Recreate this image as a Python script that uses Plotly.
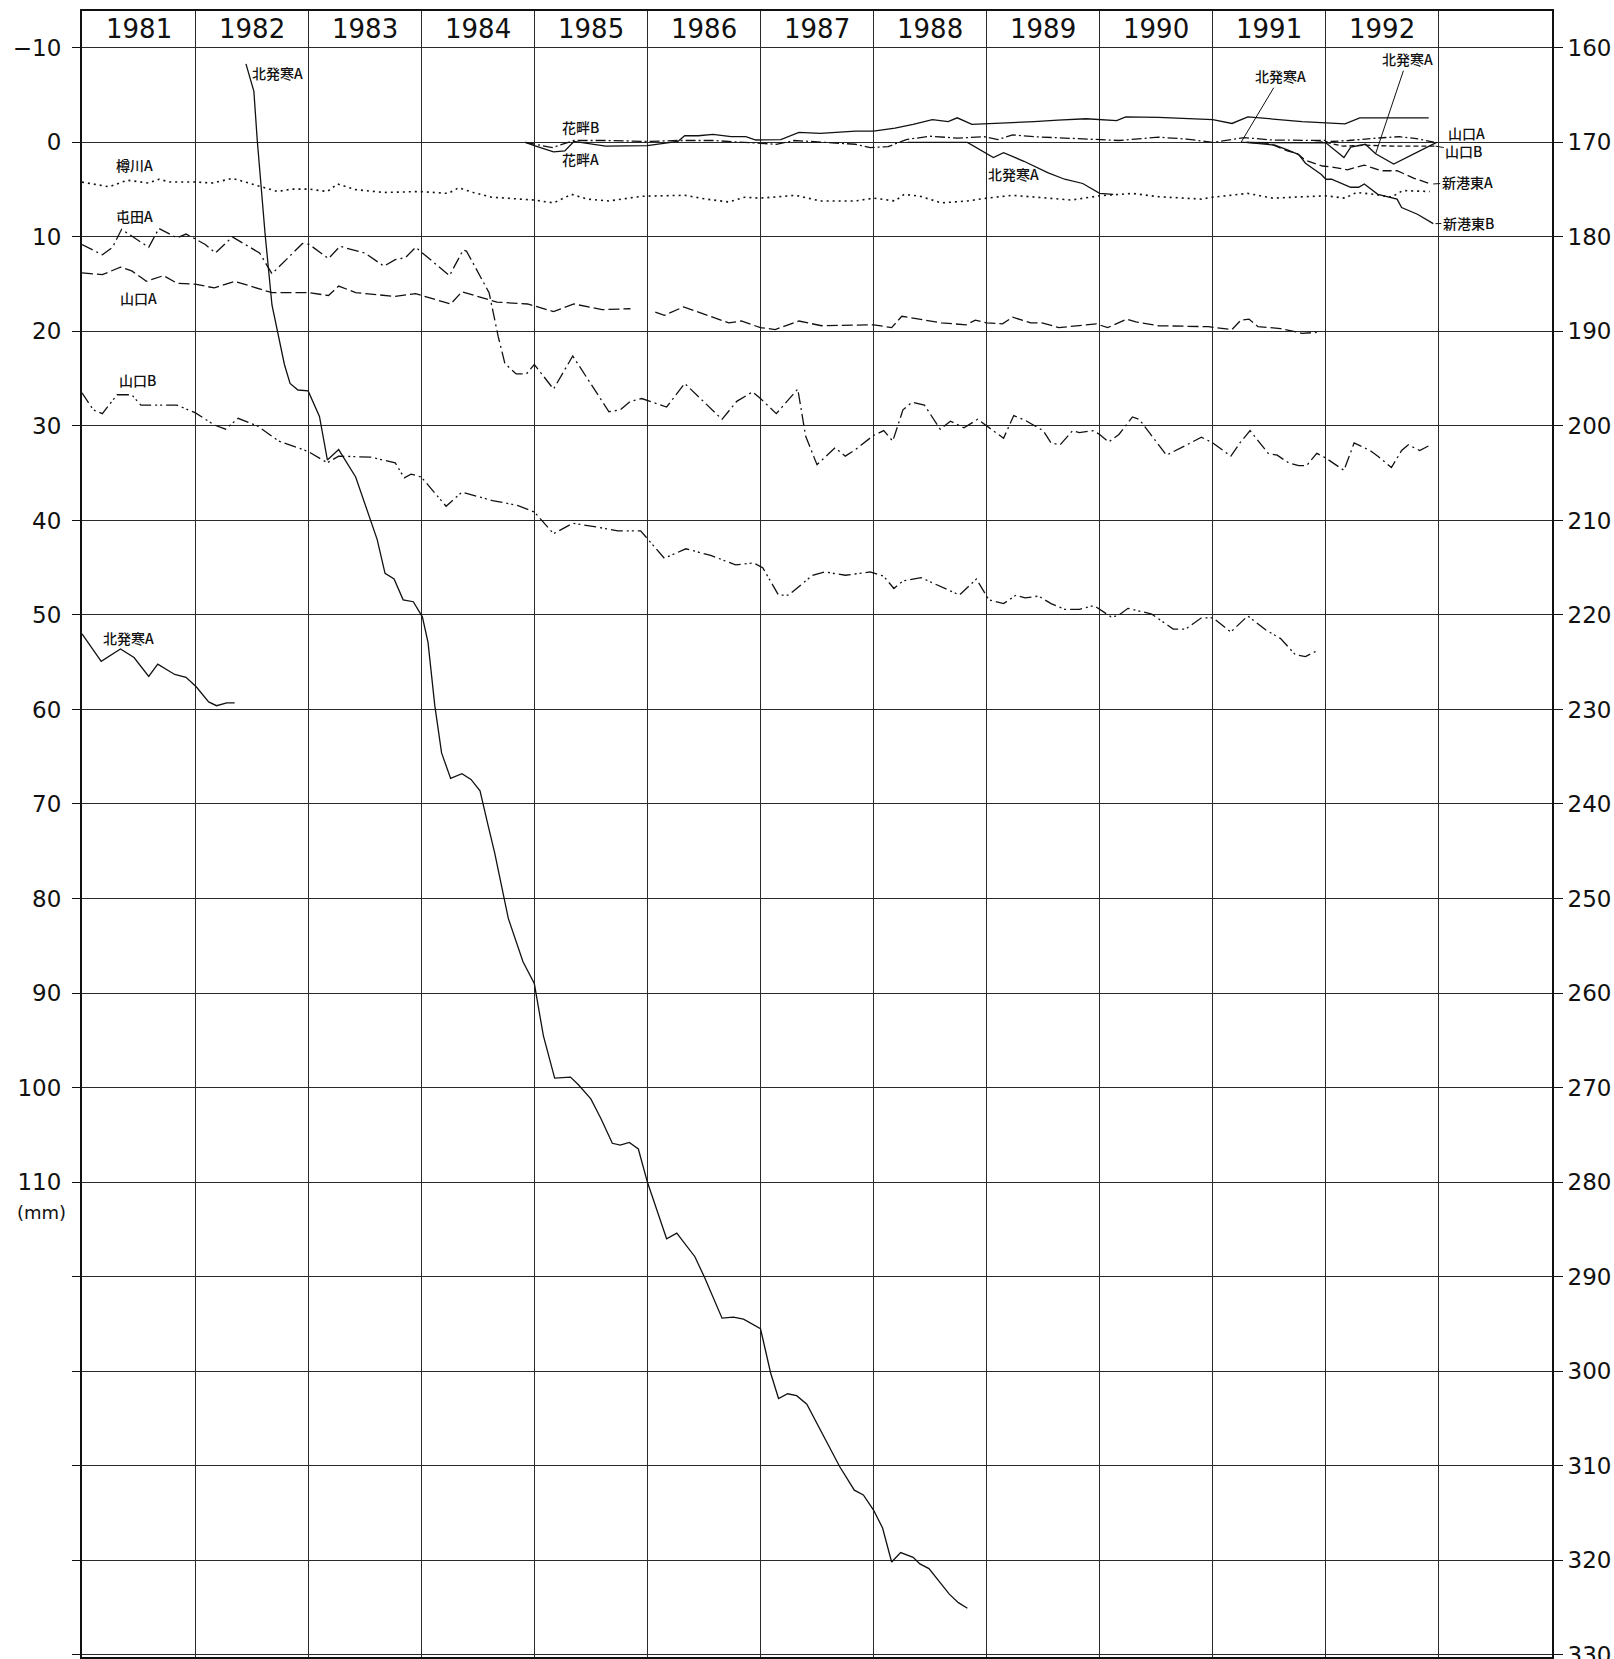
import plotly.graph_objects as go

# ---------------- data (decimal years, settlement in mm) ----------------
years = list(range(1981, 1993))
left_ticks = list(range(-10, 161, 10))
left_labels = [("−" + str(-v)) if v < 0 else (str(v) if v <= 110 else "") for v in left_ticks]
right_ticks = list(range(160, 331, 10))

taru_t = [1981.0, 1981.24, 1981.40, 1981.59, 1981.68, 1981.78, 1982.0, 1982.16, 1982.33, 1982.47, 1982.73,
          1982.85, 1983.01, 1983.17, 1983.26, 1983.42, 1983.67, 1983.99, 1984.24, 1984.33, 1984.46, 1984.62,
          1985.0, 1985.17, 1985.33, 1985.47, 1985.66, 1985.95, 1986.33, 1986.52, 1986.72, 1986.86, 1987.0,
          1987.31, 1987.53, 1987.84, 1988.0, 1988.19, 1988.27, 1988.41, 1988.6, 1988.83, 1989.0, 1989.23,
          1989.41, 1989.6, 1989.75, 1990.0, 1990.29, 1990.52, 1990.9, 1991.0, 1991.31, 1991.53, 1991.78,
          1992.0, 1992.17, 1992.27, 1992.43, 1992.58, 1992.68, 1992.92]
taru_v = [4.2, 4.7, 4.0, 4.3, 3.9, 4.2, 4.2, 4.3, 3.8, 4.3, 5.2, 4.95, 4.95, 5.2, 4.4, 5.0, 5.3, 5.2, 5.4, 4.8,
          5.3, 5.8, 6.1, 6.4, 5.5, 6.0, 6.2, 5.7, 5.6, 6.0, 6.3, 5.8, 5.9, 5.6, 6.2, 6.2, 5.9, 6.2, 5.5, 5.7,
          6.4, 6.2, 5.9, 5.6, 5.8, 6.0, 6.1, 5.65, 5.4, 5.75, 6.0, 5.8, 5.4, 5.9, 5.8, 5.65, 5.9, 5.3, 5.5,
          5.8, 5.1, 5.2]

tonden_t = [1981.0, 1981.18, 1981.27, 1981.35, 1981.59, 1981.68, 1981.84, 1981.92, 1982.0, 1982.09, 1982.18,
            1982.33, 1982.57, 1982.68, 1982.95, 1983.01, 1983.18, 1983.28, 1983.5, 1983.67, 1983.77, 1983.86,
            1983.95, 1984.25, 1984.37, 1984.40, 1984.6, 1984.68, 1984.74, 1984.84, 1984.93, 1985.0, 1985.17,
            1985.34, 1985.66, 1985.76, 1985.85, 1985.95, 1986.17, 1986.33, 1986.66, 1986.79, 1986.93, 1987.0,
            1987.14, 1987.33, 1987.4, 1987.5, 1987.66, 1987.75, 1987.84, 1988.0, 1988.09, 1988.17, 1988.26,
            1988.34, 1988.45, 1988.59, 1988.68, 1988.8, 1988.92, 1989.0, 1989.15, 1989.24, 1989.34, 1989.5,
            1989.57, 1989.65, 1989.76, 1989.82, 1989.94, 1990.0, 1990.08, 1990.17, 1990.29, 1990.35, 1990.59,
            1990.9, 1991.0, 1991.16, 1991.24, 1991.33, 1991.49, 1991.57, 1991.67, 1991.76, 1991.83, 1991.92,
            1992.0, 1992.16, 1992.25, 1992.39, 1992.46, 1992.58, 1992.67, 1992.73, 1992.83, 1992.91]
tonden_v = [10.8, 11.9, 11.1, 9.2, 11.1, 9.1, 10.1, 9.7, 10.2, 10.8, 11.7, 10.0, 11.7, 13.9, 10.7, 10.8, 12.3,
            11.0, 11.7, 13.1, 12.4, 12.2, 11.1, 14.1, 11.4, 11.5, 15.9, 20.5, 23.4, 24.5, 24.5, 23.5, 26.1,
            22.6, 28.5, 28.3, 27.4, 27.1, 28.0, 25.5, 29.3, 27.4, 26.4, 27.1, 28.7, 26.1, 31.1, 34.1, 32.3,
            33.2, 32.5, 31.0, 30.5, 31.6, 28.3, 27.5, 27.8, 30.35, 29.5, 30.2, 29.3, 30.0, 31.3, 28.9, 29.4,
            30.5, 31.8, 32.0, 30.5, 30.7, 30.5, 30.9, 31.7, 30.9, 29.05, 29.3, 33.1, 31.2, 31.8, 33.2, 31.8,
            30.5, 32.9, 33.1, 33.9, 34.2, 34.2, 32.9, 33.4, 34.7, 31.8, 32.6, 33.2, 34.4, 32.6, 32.0, 32.6, 32.1]

yamaA_t = [1981.0, 1981.18, 1981.34, 1981.44, 1981.57, 1981.72, 1981.84, 1982.0, 1982.17, 1982.35, 1982.68,
           1983.0, 1983.18, 1983.27, 1983.42, 1983.77, 1983.95, 1984.26, 1984.36, 1984.67, 1984.94, 1985.17,
           1985.35, 1985.6, 1985.85, 1985.96, 1986.07, 1986.15, 1986.32, 1986.72, 1986.83, 1987.0, 1987.13,
           1987.34, 1987.54, 1988.0, 1988.16, 1988.25, 1988.6, 1988.82, 1988.9, 1989.0, 1989.14, 1989.23,
           1989.39, 1989.49, 1989.64, 1989.97, 1990.07, 1990.24, 1990.32, 1990.52, 1990.96, 1991.17, 1991.25,
           1991.32, 1991.4, 1991.6, 1991.79, 1991.92]
yamaA_v = [13.8, 14.0, 13.2, 13.6, 14.7, 14.1, 14.9, 15.0, 15.4, 14.7, 15.9, 15.9, 16.2, 15.2, 15.9, 16.3, 16.0,
           17.1, 15.8, 16.9, 17.1, 17.9, 17.1, 17.7, 17.6, None, 17.95, 18.3, 17.4, 19.1, 18.9, 19.6, 19.8,
           18.9, 19.4, 19.3, 19.6, 18.4, 19.1, 19.3, 18.8, 19.1, 19.2, 18.5, 19.1, 19.1, 19.6, 19.2, 19.6,
           18.7, 19.0, 19.4, 19.5, 19.8, 18.8, 18.7, 19.5, 19.7, 20.2, 20.1]

yamaB_t = [1981.0, 1981.1, 1981.18, 1981.31, 1981.44, 1981.52, 1981.84, 1982.0, 1982.17, 1982.27, 1982.38,
           1982.55, 1982.74, 1983.0, 1983.17, 1983.27, 1983.55, 1983.77, 1983.85, 1983.91, 1984.0, 1984.22,
           1984.36, 1984.63, 1984.85, 1985.0, 1985.17, 1985.34, 1985.53, 1985.74, 1985.94, 1986.15, 1986.34,
           1986.56, 1986.78, 1986.94, 1987.02, 1987.16, 1987.25, 1987.46, 1987.57, 1987.75, 1987.97, 1988.09,
           1988.18, 1988.26, 1988.42, 1988.61, 1988.76, 1988.91, 1989.02, 1989.15, 1989.26, 1989.34, 1989.46,
           1989.57, 1989.69, 1989.82, 1989.95, 1990.1, 1990.16, 1990.25, 1990.46, 1990.65, 1990.76, 1990.9,
           1991.0, 1991.16, 1991.31, 1991.47, 1991.6, 1991.73, 1991.82, 1991.92]
yamaB_v = [26.5, 28.3, 28.7, 26.7, 26.7, 27.8, 27.8, 28.6, 29.9, 30.35, 29.2, 30.0, 31.6, 32.7, 33.9, 33.2, 33.3,
           33.9, 35.5, 35.1, 35.4, 38.5, 37.0, 37.9, 38.4, 39.1, 41.4, 40.3, 40.65, 41.1, 41.1, 44.0, 43.0,
           43.7, 44.7, 44.5, 45.0, 47.9, 47.9, 45.8, 45.45, 45.8, 45.45, 45.9, 47.2, 46.4, 46.05, 47.1, 47.9,
           46.2, 48.4, 48.8, 47.9, 48.2, 48.0, 48.8, 49.4, 49.4, 49.0, 50.2, 50.1, 49.3, 49.9, 51.5, 51.5,
           50.3, 50.3, 51.8, 50.1, 51.6, 52.5, 54.2, 54.4, 53.8]

kita1_t = [1981.0, 1981.17, 1981.34, 1981.46, 1981.59, 1981.67, 1981.82, 1981.92, 1982.01, 1982.12, 1982.19,
           1982.28, 1982.35]
kita1_v = [52.0, 54.9, 53.6, 54.5, 56.5, 55.2, 56.3, 56.6, 57.6, 59.2, 59.6, 59.3, 59.3]

# 北発寒A main record, read on the right-hand scale
kita2_t = [1982.45, 1982.52, 1982.55, 1982.62, 1982.68, 1982.73, 1982.79, 1982.84, 1982.91, 1983.0, 1983.1,
           1983.17, 1983.27, 1983.42, 1983.54, 1983.61, 1983.68, 1983.76, 1983.84, 1983.93, 1984.01, 1984.06,
           1984.12, 1984.18, 1984.26, 1984.36, 1984.44, 1984.52, 1984.59, 1984.65, 1984.77, 1984.9, 1985.0,
           1985.08, 1985.18, 1985.32, 1985.39, 1985.5, 1985.59, 1985.69, 1985.76, 1985.84, 1985.92, 1986.0,
           1986.17, 1986.26, 1986.42, 1986.51, 1986.66, 1986.76, 1986.85, 1986.92, 1987.0, 1987.09, 1987.16,
           1987.24, 1987.32, 1987.41, 1987.53, 1987.7, 1987.83, 1987.91, 1988.0, 1988.08, 1988.16, 1988.24,
           1988.35, 1988.41, 1988.49, 1988.58, 1988.67, 1988.75, 1988.83]
kita2_v = [161.7, 164.6, 169.8, 179.8, 187.2, 190.1, 193.5, 195.5, 196.2, 196.3, 199.0, 203.6, 202.5, 205.4,
           209.7, 212.0, 215.6, 216.2, 218.4, 218.6, 220.2, 222.9, 229.6, 234.6, 237.3, 236.8, 237.4, 238.6,
           242.2, 245.2, 252.1, 256.7, 259.0, 264.5, 269.0, 268.9, 269.7, 271.2, 273.3, 275.9, 276.1, 275.8,
           276.5, 280.0, 286.0, 285.4, 287.9, 290.2, 294.4, 294.3, 294.5, 295.0, 295.5, 300.2, 302.9, 302.4,
           302.6, 303.5, 306.2, 310.1, 312.6, 313.1, 314.7, 316.6, 320.2, 319.2, 319.7, 320.4, 320.9, 322.2,
           323.6, 324.5, 325.1]

kita3_t = [1988.3, 1988.83, 1989.06, 1989.15, 1989.33, 1989.54, 1989.69, 1989.85, 1990.0, 1990.12]
kita3_v = [0.0, 0.0, 1.6, 1.1, 2.0, 3.2, 3.9, 4.35, 5.4, 5.5]

kita4_t = [1991.25, 1991.6, 1992.0, 1992.16, 1992.22, 1992.35, 1992.44, 1992.6, 1992.98]
kita4_v = [0.0, 0.05, 0.05, 1.6, 0.5, 0.2, 1.2, 2.3, 0.0]

hanaA_t = [1984.92, 1985.0, 1985.17, 1985.27, 1985.35, 1985.47, 1985.63, 1986.0, 1986.17, 1986.27, 1986.33,
           1986.45, 1986.58, 1986.74, 1986.87, 1986.96, 1987.18, 1987.34, 1987.53, 1987.84, 1988.0, 1988.19,
           1988.35, 1988.52, 1988.66, 1988.74, 1988.87, 1989.1, 1989.42, 1989.63, 1989.88, 1990.15, 1990.23,
           1990.52, 1991.0, 1991.17, 1991.31, 1991.79, 1992.0, 1992.17, 1992.3, 1992.91]
hanaA_v = [0.0, 0.35, 1.0, 0.9, -0.1, 0.1, 0.4, 0.35, 0.1, -0.1, -0.7, -0.7, -0.85, -0.6, -0.6, -0.25, -0.3,
           -1.05, -0.95, -1.2, -1.2, -1.5, -1.9, -2.4, -2.2, -2.6, -1.9, -2.0, -2.2, -2.35, -2.5, -2.3, -2.7,
           -2.65, -2.4, -2.0, -2.7, -2.2, -2.1, -1.95, -2.6, -2.6]

hanaB_t = [1984.92, 1985.16, 1985.35, 1985.63, 1986.0, 1986.27, 1986.58, 1987.0, 1987.14, 1987.3, 1987.53,
           1987.84, 1987.97, 1988.13, 1988.29, 1988.5, 1988.74, 1988.98, 1989.1, 1989.23, 1989.42, 1989.63,
           1990.0, 1990.17, 1990.52, 1990.77, 1991.0, 1991.28, 1991.53, 1991.78, 1992.0]
hanaB_v = [0.0, 0.55, -0.2, -0.2, -0.1, -0.2, -0.2, 0.05, 0.2, -0.2, 0.0, 0.2, 0.55, 0.45, -0.3, -0.65, -0.45,
           -0.6, -0.3, -0.8, -0.6, -0.5, -0.25, -0.2, -0.55, -0.35, 0.0, -0.5, -0.25, -0.25, -0.2]

shinA_t = [1991.3, 1991.5, 1991.66, 1991.75, 1991.82, 1991.97, 1992.05, 1992.19, 1992.34, 1992.49, 1992.63,
           1992.78, 1992.93]
shinA_v = [0.0, 0.1, 0.9, 1.2, 1.9, 2.5, 2.6, 2.9, 2.4, 3.0, 3.0, 3.8, 4.4]

shinB_t = [1991.3, 1991.55, 1991.66, 1991.76, 1991.82, 1991.9, 1991.96, 1992.0, 1992.05, 1992.22, 1992.29,
           1992.34, 1992.46, 1992.63, 1992.67, 1992.81, 1992.95]
shinB_v = [0.0, 0.3, 0.8, 1.3, 2.2, 2.9, 3.4, 3.9, 3.9, 4.75, 4.75, 4.4, 5.5, 6.0, 6.9, 7.6, 8.6]

yamaA2_t = [1991.9, 1992.2, 1992.45, 1992.65, 1992.8, 1992.97]
yamaA2_v = [0.0, -0.2, -0.45, -0.6, -0.4, 0.0]

yamaB2_t = [1992.0, 1992.15, 1992.35, 1992.6, 1992.97]
yamaB2_v = [0.0, 0.4, 0.3, 0.4, 0.4]

# ---------------- figure ----------------
INK = "#111111"
fig = go.Figure()


def add_line(t, v, dash="solid", yaxis="y", width=1.3):
    fig.add_trace(go.Scatter(x=t, y=v, mode="lines", yaxis=yaxis,
                             line=dict(color=INK, width=width, dash=dash),
                             connectgaps=False, hoverinfo="skip", showlegend=False))


add_line(taru_t, taru_v, dash="2px,4px", width=1.6)
add_line(tonden_t, tonden_v, dash="12px,4px,2px,4px")
add_line(yamaA_t, yamaA_v, dash="11px,4px")
add_line(yamaB_t, yamaB_v, dash="12px,4px,2px,3px,2px,4px")
add_line(kita1_t, kita1_v)
add_line(kita2_t, kita2_v, yaxis="y2")
add_line(kita3_t, kita3_v)
add_line(kita4_t, kita4_v)
add_line(hanaA_t, hanaA_v)
add_line(hanaB_t, hanaB_v, dash="10px,3px,2px,3px")
add_line(shinA_t, shinA_v, dash="9px,4px")
add_line(shinB_t, shinB_v)
add_line(yamaA2_t, yamaA2_v, dash="8px,3px,2px,3px")
add_line(yamaB2_t, yamaB2_v, dash="5px,3px")

NUM_FONT = dict(family="DejaVu Sans", size=23, color=INK)
LBL_FONT = dict(family="Noto Sans CJK JP", size=14, color=INK, weight=500)

annotations = []
for y in years:
    annotations.append(dict(x=y + 0.5, y=-11.95, xref="x", yref="y", text=str(y), showarrow=False,
                            xanchor="center", yanchor="middle",
                            font=dict(family="DejaVu Sans", size=26, color=INK)))
annotations.append(dict(x=-0.0275, y=113.2, xref="paper", yref="y", text="(mm)", showarrow=False,
                        xanchor="center", yanchor="middle",
                        font=dict(family="DejaVu Sans", size=18, color=INK)))

plain_labels = [
    ("樽川A", 1981.46, 2.4), ("屯田A", 1981.46, 7.8), ("山口A", 1981.5, 16.5), ("山口B", 1981.49, 25.1),
    ("北発寒A", 1981.41, 52.4), ("北発寒A", 1982.73, -7.3), ("花畔B", 1985.41, -1.6), ("花畔A", 1985.41, 1.8),
    ("北発寒A", 1989.24, 3.3), ("山口A", 1993.24, -1.0),
]
for txt, x, y in plain_labels:
    annotations.append(dict(x=x, y=y, xref="x", yref="y", text=txt, showarrow=False, font=LBL_FONT,
                            xanchor="center", yanchor="middle"))

leader_labels = [
    ("北発寒A", 1991.25, 0.0, 1991.6, -7.0), ("北発寒A", 1992.44, 1.2, 1992.72, -8.8),
    ("山口B", 1992.97, 0.4, 1993.22, 0.9), ("新港東A", 1992.95, 4.4, 1993.25, 4.2),
    ("新港東B", 1992.97, 8.6, 1993.26, 8.5),
]
for txt, x, y, ax, ay in leader_labels:
    annotations.append(dict(x=x, y=y, xref="x", yref="y", ax=ax, ay=ay, axref="x", ayref="y", text=txt,
                            showarrow=True, arrowhead=0, arrowwidth=1, arrowcolor=INK, font=LBL_FONT))

fig.update_layout(
    width=1614, height=1659, autosize=False,
    margin=dict(l=82, r=62, t=11, b=2, autoexpand=False),
    paper_bgcolor="white", plot_bgcolor="white",
    annotations=annotations,
    xaxis=dict(range=[1981, 1994], tickvals=list(range(1981, 1995)), showticklabels=False, ticks="",
               showgrid=True, gridcolor="#2a2a2a", gridwidth=1.2, zeroline=False, automargin=False,
               showline=True, mirror=True, linecolor=INK, linewidth=2),
    yaxis=dict(range=[160.25, -13.9], tickvals=left_ticks, ticktext=left_labels, ticks="outside", ticklen=8,
               tickcolor=INK, tickfont=NUM_FONT, ticklabelstandoff=6, automargin=False,
               showgrid=True, gridcolor="#2a2a2a", gridwidth=1, zeroline=False,
               showline=True, mirror=True, linecolor=INK, linewidth=2),
    yaxis2=dict(range=[330.25, 156.1], overlaying="y", side="right", tickvals=right_ticks, ticks="outside",
                ticklen=10, tickcolor=INK, tickfont=NUM_FONT, showgrid=False, zeroline=False, showline=False,
                automargin=False, ticklabeloverflow="allow"),
)

# place the figure flush with the page corner, with no scrollbars
fig.write_html("out.html", config={"displayModeBar": False},
               post_script="document.body.style.margin='0';document.body.style.overflow='hidden';"
                           "document.documentElement.style.overflow='hidden';")
